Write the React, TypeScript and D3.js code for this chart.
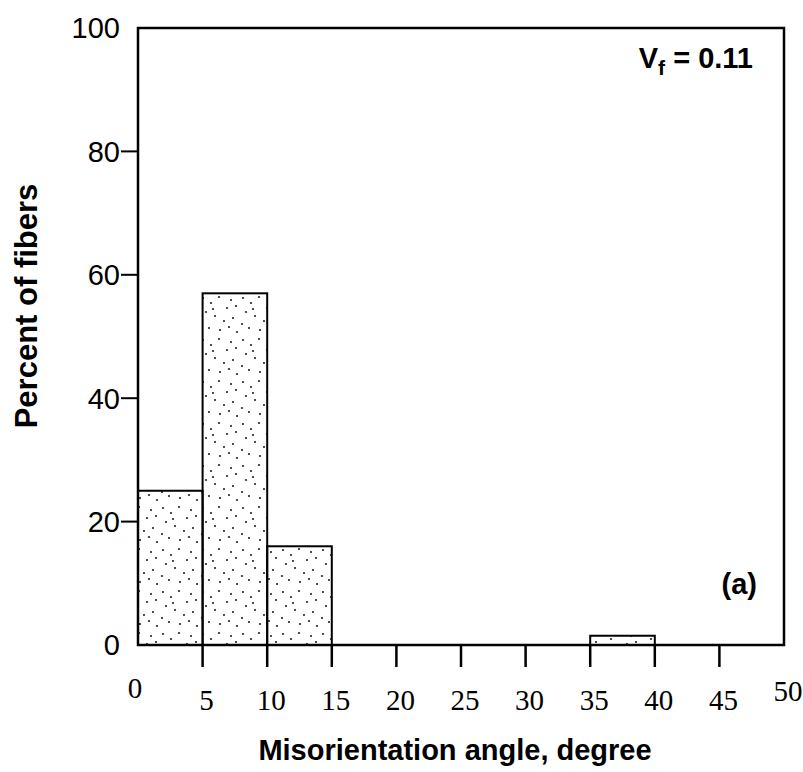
import React from "react";
import * as d3 from "d3";

const binStarts = [0, 5, 10, 35];
const binWidth = 5;
const percents = [25, 57, 16, 1.5];
const xTicks = [5, 10, 15, 20, 25, 30, 35, 40, 45];
const xLabels = [0, 5, 10, 15, 20, 25, 30, 35, 40, 45, 50];
const yTicks = [0, 20, 40, 60, 80, 100];

const W = 803, H = 772;
const left = 138, right = 784, top = 28, bottom = 645;

const stipple = [
  [3, 4], [11, 9], [19, 3], [27, 14], [6, 18], [15, 22], [24, 27], [2, 30],
  [31, 6], [9, 34], [20, 36], [33, 24], [13, 15], [29, 33], [37, 38], [36, 12],
];

export default function App() {
  const x = d3.scaleLinear().domain([0, 50]).range([left, right]);
  const y = d3.scaleLinear().domain([0, 100]).range([bottom, top]);
  const font = "'Liberation Sans', Arial, sans-serif";
  const serif = "'Liberation Serif', 'Times New Roman', serif";
  return (
    <svg width={W} height={H} style={{ position: "absolute", left: 0, top: 0, background: "#fff" }}>
      <defs>
        <pattern id="dots" width={40} height={42} patternUnits="userSpaceOnUse">
          {stipple.map(([cx, cy], i) => (
            <circle key={i} cx={cx} cy={cy} r={1.1} fill="#222" />
          ))}
        </pattern>
      </defs>
      {binStarts.map((s, i) => (
        <rect
          key={i}
          x={x(s)}
          y={y(percents[i])}
          width={x(s + binWidth) - x(s)}
          height={y(0) - y(percents[i])}
          fill="url(#dots)"
          stroke="#000"
          strokeWidth={2}
        />
      ))}
      <rect x={left} y={top} width={right - left} height={bottom - top} fill="none" stroke="#000" strokeWidth={2.5} />
      {yTicks.map((t) => (
        <g key={t}>
          {t > 0 && t < 100 && <line x1={left - 17} x2={left} y1={y(t)} y2={y(t)} stroke="#000" strokeWidth={2} />}
          <text x={left - 18} y={y(t)} dy="0.36em" textAnchor="end" fontFamily={font} fontSize={29} fill="#000">
            {t}
          </text>
        </g>
      ))}
      {xTicks.map((t) => (
        <line key={t} x1={x(t)} x2={x(t)} y1={bottom} y2={bottom + 22} stroke="#000" strokeWidth={2.5} />
      ))}
      {xLabels.map((t) => (
        <text
          key={t}
          x={x(t) + (t === 0 ? -3 : 4)}
          y={t === 0 ? 688 : t === 50 ? 691 : 700}
          dy="0.35em"
          textAnchor="middle"
          fontFamily={serif}
          fontSize={29}
          fill="#000"
        >
          {t}
        </text>
      ))}
      <text x={455} y={750} dy="0.36em" textAnchor="middle" fontFamily={font} fontWeight="bold" fontSize={29} fill="#000">
        Misorientation angle, degree
      </text>
      <text
        transform={`translate(26,${306}) rotate(-90)`}
        dy="0.36em"
        textAnchor="middle"
        fontFamily={font}
        fontWeight="bold"
        fontSize={31}
        fill="#000"
      >
        Percent of fibers
      </text>
      <text x={753} y={68} textAnchor="end" fontFamily={font} fontWeight="bold" fontSize={29} fill="#000">
        V<tspan fontSize={21} dy="7">f</tspan>
        <tspan dy="-7"> = 0.11</tspan>
      </text>
      <text x={757} y={594} textAnchor="end" fontFamily={font} fontWeight="bold" fontSize={29} fill="#000">
        (a)
      </text>
    </svg>
  );
}
